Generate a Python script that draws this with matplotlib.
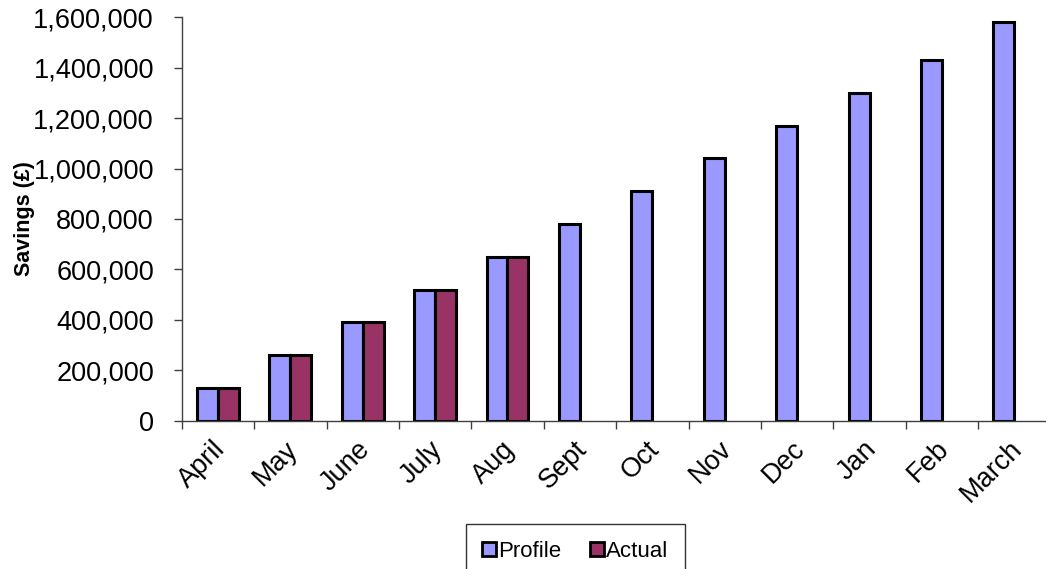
import numpy as np
import matplotlib.pyplot as plt
from matplotlib.ticker import FuncFormatter

plt.rcParams['font.family'] = ['Liberation Sans', 'DejaVu Sans']

# data
months = ["April", "May", "June", "July", "Aug", "Sept", "Oct", "Nov", "Dec", "Jan", "Feb", "March"]
profile = [130000, 260000, 390000, 520000, 650000, 780000, 910000, 1040000,
           1170000, 1300000, 1430000, 1580000]
actual = [130000, 260000, 390000, 520000, 650000, np.nan, np.nan, np.nan,
          np.nan, np.nan, np.nan, np.nan]

W, H = 1046, 569
fig = plt.figure(figsize=(W / 100, H / 100), dpi=100)
# plot area runs off the right edge, like the original screenshot
ax = fig.add_axes([181.7 / W, (H - 420.7) / H, 868.8 / W, 403.4 / H])

x = np.arange(len(months))
bw = 0.29
ax.bar(x - bw / 2, profile, bw, color='#9999FF', edgecolor='black', linewidth=2.2, label='Profile')
ax.bar(x + bw / 2, actual, bw, color='#993366', edgecolor='black', linewidth=2.2, label='Actual')

ax.set_xlim(-0.5, len(months) - 0.5)
ax.set_ylim(0, 1600000)
ax.set_yticks(np.arange(0, 1600001, 200000))
ax.yaxis.set_major_formatter(FuncFormatter(lambda v, p: f"{int(v):,}"))

# tick marks between categories, labels at the centres
ax.set_xticks(np.arange(-0.5, len(months), 1.0))
ax.set_xticklabels([])
ax.set_xticks(x - 0.08, minor=True)
ax.set_xticklabels(months, minor=True, rotation=45, ha='right', va='top', rotation_mode='anchor')
ax.tick_params(axis='x', which='minor', length=0, pad=11, labelsize=19.5)
ax.tick_params(axis='x', which='major', length=6, width=1, color='#404040')
ax.tick_params(axis='y', length=6, width=1, color='#404040', labelsize=19.5, pad=14)

for s in ['top', 'right']:
    ax.spines[s].set_visible(False)
for s in ['left', 'bottom']:
    ax.spines[s].set_color('#404040')
    ax.spines[s].set_linewidth(1)

ax.set_ylabel("Savings (£)", fontsize=15.5, fontweight='bold', labelpad=-1)

leg = fig.legend(loc='upper center', bbox_to_anchor=(575.5 / W, (H - 524) / H), ncol=2,
                 fontsize=16, frameon=True, fancybox=False, edgecolor='black',
                 handlelength=0.6, handleheight=0.6, handletextpad=0.12,
                 columnspacing=1.3, borderpad=0.75, borderaxespad=0)
leg.get_frame().set_linewidth(1)
for h in leg.legend_handles:
    h.set_linewidth(2)

fig.savefig("out.png", dpi=100)
